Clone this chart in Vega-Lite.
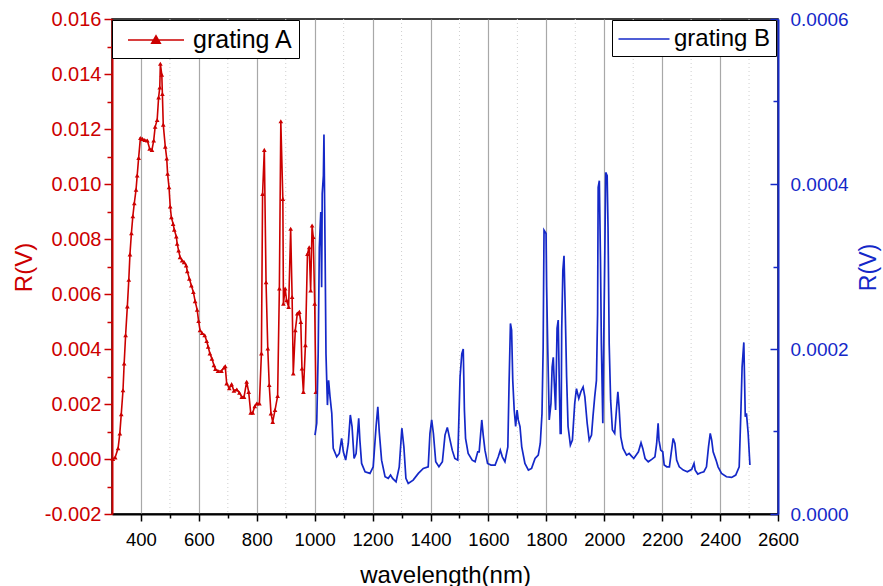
{
  "$schema": "https://vega.github.io/schema/vega-lite/v6.json",
  "width": 666,
  "height": 495,
  "autosize": {"type": "none"},
  "padding": {"left": 112, "top": 19, "right": 105, "bottom": 72},
  "background": "white",
  "config": {
    "font": "Liberation Sans",
    "view": {"stroke": "black", "strokeWidth": 1.5},
    "axis": {"labelFont": "Liberation Sans", "titleFont": "Liberation Sans", "labelFontSize": 19, "titleFontSize": 24, "titleFontWeight": "normal"}
  },
  "datasets": {
    "minor": [{"wl": 500}, {"wl": 700}, {"wl": 900}, {"wl": 1100}, {"wl": 1300}, {"wl": 1500}, {"wl": 1700}, {"wl": 1900}, {"wl": 2100}, {"wl": 2300}, {"wl": 2500}],
    "A": [
      {"wl":303,"R":0.0},{"wl":311,"R":0.00006},{"wl":321,"R":0.00039},{"wl":327,"R":0.00093},{"wl":332,"R":0.00163},{"wl":338,"R":0.0025},{"wl":342,"R":0.00347},{"wl":347,"R":0.0045},{"wl":353,"R":0.00555},{"wl":358,"R":0.00652},{"wl":362,"R":0.00744},{"wl":367,"R":0.00821},{"wl":372,"R":0.00883},{"wl":377,"R":0.0093},{"wl":383,"R":0.00979},{"wl":387,"R":0.01031},{"wl":392,"R":0.01095},{"wl":398,"R":0.01167},{"wl":405,"R":0.01164},{"wl":413,"R":0.0116},{"wl":422,"R":0.01158},{"wl":430,"R":0.01128},{"wl":438,"R":0.01124},{"wl":444,"R":0.01158},{"wl":449,"R":0.01208},{"wl":456,"R":0.01233},{"wl":461,"R":0.01315},{"wl":465,"R":0.01351},{"wl":467,"R":0.01437},{"wl":472,"R":0.01397},{"wl":474,"R":0.01327},{"wl":477,"R":0.01216},{"wl":484,"R":0.01136},{"wl":489,"R":0.01093},{"wl":492,"R":0.01037},{"wl":497,"R":0.00988},{"wl":501,"R":0.00918},{"wl":505,"R":0.00879},{"wl":511,"R":0.00855},{"wl":515,"R":0.00834},{"wl":522,"R":0.00809},{"wl":525,"R":0.00783},{"wl":530,"R":0.00758},{"wl":535,"R":0.00734},{"wl":542,"R":0.00722},{"wl":549,"R":0.00716},{"wl":556,"R":0.00704},{"wl":560,"R":0.00683},{"wl":567,"R":0.00656},{"wl":574,"R":0.00631},{"wl":581,"R":0.00607},{"wl":587,"R":0.00574},{"wl":594,"R":0.00543},{"wl":599,"R":0.00502},{"wl":604,"R":0.00468},{"wl":611,"R":0.00458},{"wl":620,"R":0.0045},{"wl":627,"R":0.00429},{"wl":632,"R":0.00408},{"wl":638,"R":0.00384},{"wl":645,"R":0.00365},{"wl":652,"R":0.00341},{"wl":657,"R":0.00327},{"wl":666,"R":0.0032},{"wl":678,"R":0.0032},{"wl":687,"R":0.00333},{"wl":691,"R":0.00337},{"wl":696,"R":0.00275},{"wl":705,"R":0.00257},{"wl":713,"R":0.00272},{"wl":721,"R":0.00248},{"wl":731,"R":0.00253},{"wl":740,"R":0.00241},{"wl":748,"R":0.00226},{"wl":756,"R":0.00226},{"wl":765,"R":0.00281},{"wl":772,"R":0.00244},{"wl":779,"R":0.00168},{"wl":786,"R":0.00168},{"wl":793,"R":0.00192},{"wl":800,"R":0.00202},{"wl":809,"R":0.00202},{"wl":816,"R":0.00384},{"wl":820,"R":0.00964},{"wl":826,"R":0.01124},{"wl":832,"R":0.00643},{"wl":838,"R":0.00402},{"wl":843,"R":0.00269},{"wl":849,"R":0.00166},{"wl":855,"R":0.00135},{"wl":863,"R":0.00178},{"wl":872,"R":0.00229},{"wl":878,"R":0.0062},{"wl":883,"R":0.01228},{"wl":890,"R":0.00946},{"wl":892,"R":0.00565},{"wl":898,"R":0.0062},{"wl":903,"R":0.00577},{"wl":910,"R":0.00553},{"wl":917,"R":0.00837},{"wl":922,"R":0.00589},{"wl":926,"R":0.00311},{"wl":933,"R":0.00468},{"wl":940,"R":0.00529},{"wl":947,"R":0.00535},{"wl":952,"R":0.00498},{"wl":956,"R":0.00329},{"wl":961,"R":0.00244},{"wl":968,"R":0.00414},{"wl":975,"R":0.00746},{"wl":981,"R":0.0077},{"wl":986,"R":0.00613},{"wl":991,"R":0.00849},{"wl":995,"R":0.00807},{"wl":1000,"R":0.00565},{"wl":1004,"R":0.00244}
    ],
    "B": [
      {"wl":1001,"R":0.0000956},{"wl":1007,"R":0.00011},{"wl":1012,"R":0.000194},{"wl":1016,"R":0.000323},{"wl":1021,"R":0.000366},{"wl":1024,"R":0.000275},{"wl":1026,"R":0.000388},{"wl":1030,"R":0.00041},{"wl":1032,"R":0.00046},{"wl":1036,"R":0.000315},{"wl":1039,"R":0.000194},{"wl":1044,"R":0.000132},{"wl":1048,"R":0.000162},{"wl":1053,"R":0.000142},{"wl":1059,"R":0.000122},{"wl":1064,"R":0.0000795},{"wl":1076,"R":0.0000693},{"wl":1085,"R":0.0000734},{"wl":1093,"R":0.0000916},{"wl":1099,"R":0.0000754},{"wl":1107,"R":0.0000653},{"wl":1116,"R":0.0000855},{"wl":1123,"R":0.00012},{"wl":1129,"R":0.000106},{"wl":1136,"R":0.0000673},{"wl":1143,"R":0.0000734},{"wl":1152,"R":0.000116},{"wl":1156,"R":0.0000895},{"wl":1162,"R":0.0000613},{"wl":1174,"R":0.0000512},{"wl":1191,"R":0.0000492},{"wl":1202,"R":0.0000572},{"wl":1212,"R":0.000106},{"wl":1218,"R":0.00013},{"wl":1223,"R":0.0000996},{"wl":1231,"R":0.0000653},{"wl":1243,"R":0.0000451},{"wl":1254,"R":0.0000432},{"wl":1262,"R":0.0000472},{"wl":1269,"R":0.0000432},{"wl":1281,"R":0.0000391},{"wl":1292,"R":0.0000572},{"wl":1301,"R":0.000104},{"wl":1308,"R":0.0000814},{"wl":1315,"R":0.0000432},{"wl":1323,"R":0.0000371},{"wl":1340,"R":0.0000411},{"wl":1358,"R":0.0000492},{"wl":1375,"R":0.0000553},{"wl":1392,"R":0.0000572},{"wl":1398,"R":0.0000976},{"wl":1404,"R":0.000114},{"wl":1410,"R":0.0000976},{"wl":1418,"R":0.0000633},{"wl":1429,"R":0.0000572},{"wl":1441,"R":0.0000633},{"wl":1450,"R":0.0000956},{"wl":1458,"R":0.000105},{"wl":1465,"R":0.0000935},{"wl":1475,"R":0.0000774},{"wl":1484,"R":0.0000673},{"wl":1494,"R":0.0000653},{"wl":1502,"R":0.000166},{"wl":1508,"R":0.000194},{"wl":1513,"R":0.0002},{"wl":1517,"R":0.000126},{"wl":1521,"R":0.0000916},{"wl":1530,"R":0.0000734},{"wl":1544,"R":0.0000653},{"wl":1554,"R":0.0000633},{"wl":1563,"R":0.0000754},{"wl":1568,"R":0.0000754},{"wl":1577,"R":0.000114},{"wl":1582,"R":0.0000956},{"wl":1588,"R":0.0000774},{"wl":1597,"R":0.0000613},{"wl":1609,"R":0.0000593},{"wl":1623,"R":0.0000593},{"wl":1634,"R":0.0000693},{"wl":1641,"R":0.0000774},{"wl":1648,"R":0.0000693},{"wl":1657,"R":0.0000633},{"wl":1667,"R":0.0000814},{"wl":1671,"R":0.000154},{"wl":1676,"R":0.000231},{"wl":1680,"R":0.000223},{"wl":1684,"R":0.000162},{"wl":1689,"R":0.000126},{"wl":1694,"R":0.000106},{"wl":1699,"R":0.000126},{"wl":1703,"R":0.000114},{"wl":1709,"R":0.000106},{"wl":1715,"R":0.0000814},{"wl":1726,"R":0.0000613},{"wl":1738,"R":0.0000532},{"wl":1749,"R":0.0000553},{"wl":1761,"R":0.0000673},{"wl":1772,"R":0.0000714},{"wl":1779,"R":0.0000855},{"wl":1785,"R":0.000122},{"wl":1789,"R":0.000202},{"wl":1792,"R":0.000344},{"wl":1799,"R":0.00034},{"wl":1801,"R":0.000275},{"wl":1805,"R":0.000198},{"wl":1810,"R":0.000114},{"wl":1816,"R":0.000134},{"wl":1820,"R":0.000178},{"wl":1824,"R":0.00019},{"wl":1827,"R":0.000162},{"wl":1832,"R":0.000126},{"wl":1837,"R":0.000225},{"wl":1841,"R":0.000235},{"wl":1845,"R":0.00015},{"wl":1848,"R":0.0000976},{"wl":1851,"R":0.0000976},{"wl":1853,"R":0.000223},{"wl":1857,"R":0.000295},{"wl":1861,"R":0.000313},{"wl":1865,"R":0.000251},{"wl":1870,"R":0.000166},{"wl":1875,"R":0.000106},{"wl":1883,"R":0.0000835},{"wl":1890,"R":0.0000895},{"wl":1898,"R":0.000134},{"wl":1904,"R":0.000152},{"wl":1912,"R":0.00014},{"wl":1919,"R":0.000148},{"wl":1927,"R":0.000154},{"wl":1933,"R":0.000142},{"wl":1941,"R":0.00011},{"wl":1948,"R":0.0000895},{"wl":1956,"R":0.0000956},{"wl":1961,"R":0.000118},{"wl":1967,"R":0.000142},{"wl":1973,"R":0.000162},{"wl":1977,"R":0.000243},{"wl":1979,"R":0.000396},{"wl":1983,"R":0.000404},{"wl":1987,"R":0.000307},{"wl":1990,"R":0.000206},{"wl":1995,"R":0.00011},{"wl":1998,"R":0.000206},{"wl":2002,"R":0.000319},{"wl":2005,"R":0.000414},{"wl":2010,"R":0.00041},{"wl":2013,"R":0.000348},{"wl":2017,"R":0.000206},{"wl":2022,"R":0.000138},{"wl":2028,"R":0.000102},{"wl":2036,"R":0.0000976},{"wl":2042,"R":0.000126},{"wl":2047,"R":0.000148},{"wl":2051,"R":0.00013},{"wl":2057,"R":0.0000935},{"wl":2065,"R":0.0000795},{"wl":2077,"R":0.0000714},{"wl":2086,"R":0.0000734},{"wl":2094,"R":0.0000702},{"wl":2102,"R":0.0000673},{"wl":2118,"R":0.0000754},{"wl":2127,"R":0.0000863},{"wl":2133,"R":0.0000795},{"wl":2141,"R":0.0000673},{"wl":2152,"R":0.0000633},{"wl":2164,"R":0.0000662},{"wl":2175,"R":0.0000693},{"wl":2181,"R":0.0000855},{"wl":2186,"R":0.00011},{"wl":2189,"R":0.0000895},{"wl":2195,"R":0.0000774},{"wl":2202,"R":0.0000754},{"wl":2207,"R":0.0000593},{"wl":2216,"R":0.0000572},{"wl":2225,"R":0.0000572},{"wl":2231,"R":0.0000734},{"wl":2238,"R":0.0000916},{"wl":2244,"R":0.0000855},{"wl":2250,"R":0.0000653},{"wl":2259,"R":0.0000572},{"wl":2273,"R":0.0000532},{"wl":2287,"R":0.0000512},{"wl":2302,"R":0.0000541},{"wl":2310,"R":0.0000613},{"wl":2314,"R":0.0000532},{"wl":2323,"R":0.0000484},{"wl":2333,"R":0.00005},{"wl":2344,"R":0.0000512},{"wl":2353,"R":0.0000572},{"wl":2360,"R":0.0000814},{"wl":2366,"R":0.0000976},{"wl":2371,"R":0.0000895},{"wl":2376,"R":0.0000754},{"wl":2386,"R":0.0000653},{"wl":2393,"R":0.0000572},{"wl":2405,"R":0.0000492},{"wl":2422,"R":0.0000451},{"wl":2440,"R":0.0000444},{"wl":2454,"R":0.0000472},{"wl":2466,"R":0.0000572},{"wl":2472,"R":0.000126},{"wl":2476,"R":0.000178},{"wl":2482,"R":0.000208},{"wl":2487,"R":0.000118},{"wl":2491,"R":0.000122},{"wl":2497,"R":0.0000976},{"wl":2503,"R":0.0000593}
    ]
  },
  "layer": [
    {
      "layer": [
        {
          "data": {"name": "minor"},
          "mark": {"type": "rule", "color": "#cfcfcf", "strokeDash": [1, 3], "strokeWidth": 1},
          "encoding": {
            "x": {"field": "wl", "type": "quantitative", "scale": {"domain": [300, 2600], "nice": false, "zero": false},
              "axis": {"orient": "bottom", "values": [500, 700, 900, 1100, 1300, 1500, 1700, 1900, 2100, 2300, 2500], "labels": false, "title": null, "domain": false, "grid": false, "tickSize": 4, "tickColor": "black", "tickWidth": 1.5}}
          }
        },
        {
          "data": {"name": "A"},
          "mark": {"type": "line", "strokeWidth": 1.6},
          "encoding": {
            "x": {"field": "wl", "type": "quantitative",
              "axis": {"orient": "bottom", "values": [400, 600, 800, 1000, 1200, 1400, 1600, 1800, 2000, 2200, 2400, 2600], "format": "d", "labelOverlap": false, "labelFlush": false, "labelColor": "black", "labelFontSize": 18.5, "labelPadding": 9, "tickSize": 7, "tickColor": "black", "tickWidth": 1.5, "domainColor": "black", "domainWidth": 2, "grid": true, "gridColor": "#a8a8a8", "gridWidth": 1.2, "title": "wavelength(nm)", "titleColor": "black", "titleFontSize": 24, "titleY": 68, "titleBaseline": "alphabetic"}},
            "y": {"field": "R", "type": "quantitative", "scale": {"domain": [-0.002, 0.016], "nice": false, "zero": false},
              "axis": {"orient": "left", "values": [-0.002, 0, 0.002, 0.004, 0.006, 0.008, 0.01, 0.012, 0.014, 0.016], "labelOverlap": false, "labelFlush": false, "labelExpr": "datum.value < 0 ? '-' + format(-datum.value, '.3f') : format(datum.value, '.3f')", "labelColor": "#cc0000", "labelFontSize": 20, "labelPadding": 3, "tickSize": 8, "tickColor": "#cc0000", "tickWidth": 1.5, "domainColor": "#cc0000", "domainWidth": 2, "grid": false, "title": "R(V)", "titleColor": "#cc0000", "titleFontSize": 24, "titleAngle": -90, "titleX": -81, "titleY": 248, "titleAlign": "center", "titleBaseline": "alphabetic"}},
            "color": {"datum": "grating A", "type": "nominal", "scale": {"range": ["#cc0000"]},
              "legend": {"orient": "none", "legendX": 0, "legendY": 1, "title": null, "strokeColor": "black", "fillColor": "white", "padding": 5, "symbolType": "M-2,0H2M-0.3,0.22L0,-0.3L0.3,0.22Z", "symbolSize": 784, "symbolOffset": 24, "symbolStrokeWidth": 1.6, "symbolStrokeColor": "#cc0000", "symbolFillColor": "#cc0000", "labelOffset": 22, "labelFontSize": 25, "labelColor": "black", "labelFont": "Liberation Sans",
                "encode": {"symbols": {"update": {"fill": {"value": "#cc0000"}, "stroke": {"value": "#cc0000"}}}}}}
          }
        },
        {
          "data": {"name": "A"},
          "mark": {"type": "point", "shape": "triangle-up", "filled": true, "size": 22, "color": "#cc0000", "opacity": 1},
          "encoding": {
            "x": {"field": "wl", "type": "quantitative", "axis": null},
            "y": {"field": "R", "type": "quantitative",
              "axis": {"orient": "left", "values": [-0.001, 0.001, 0.003, 0.005, 0.007, 0.009, 0.011, 0.013, 0.015], "labels": false, "title": null, "domain": false, "grid": false, "tickSize": 5, "tickColor": "#cc0000", "tickWidth": 1.5}}
          }
        }
      ],
      "resolve": {"axis": {"x": "independent", "y": "independent"}}
    },
    {
      "layer": [
        {
          "data": {"name": "B"},
          "mark": {"type": "line", "strokeWidth": 1.7},
          "encoding": {
            "x": {"field": "wl", "type": "quantitative", "axis": null},
            "y": {"field": "R", "type": "quantitative", "scale": {"domain": [0, 0.0006], "nice": false, "zero": false},
              "axis": {"orient": "right", "values": [0, 0.0002, 0.0004, 0.0006], "labelOverlap": false, "labelFlush": false, "format": ".4f", "labelColor": "#1428c8", "labelFontSize": 19, "labelPadding": 20, "tickSize": -8, "tickColor": "#1428c8", "tickWidth": 1.5, "domainColor": "#1428c8", "domainWidth": 2, "grid": false, "title": "R(V)", "titleColor": "#1428c8", "titleFontSize": 23, "titleAngle": -90, "titleX": 97, "titleY": 248, "titleAlign": "center", "titleBaseline": "alphabetic"}},
            "color": {"datum": "grating B", "type": "nominal", "scale": {"range": ["#1428c8"]},
              "legend": {"orient": "none", "legendX": 500, "legendY": 1, "title": null, "strokeColor": "black", "fillColor": "white", "padding": 5, "symbolType": "M-2,0H2", "symbolSize": 650, "symbolOffset": 13, "symbolStrokeWidth": 1.7, "symbolStrokeColor": "#1428c8", "labelOffset": 16, "labelFontSize": 24, "labelColor": "black", "labelFont": "Liberation Sans",
                "encode": {"symbols": {"update": {"stroke": {"value": "#1428c8"}}}}}}
          }
        },
        {
          "data": {"name": "B"},
          "mark": {"type": "line", "opacity": 0},
          "encoding": {
            "x": {"field": "wl", "type": "quantitative", "axis": null},
            "y": {"field": "R", "type": "quantitative",
              "axis": {"orient": "right", "values": [0.0001, 0.0003, 0.0005], "labels": false, "title": null, "domain": false, "grid": false, "tickSize": -5, "tickColor": "#1428c8", "tickWidth": 1.5}}
          }
        }
      ],
      "resolve": {"axis": {"y": "independent"}}
    }
  ],
  "resolve": {"scale": {"y": "independent", "color": "independent"}, "axis": {"x": "independent", "y": "independent"}, "legend": {"color": "independent"}}
}
